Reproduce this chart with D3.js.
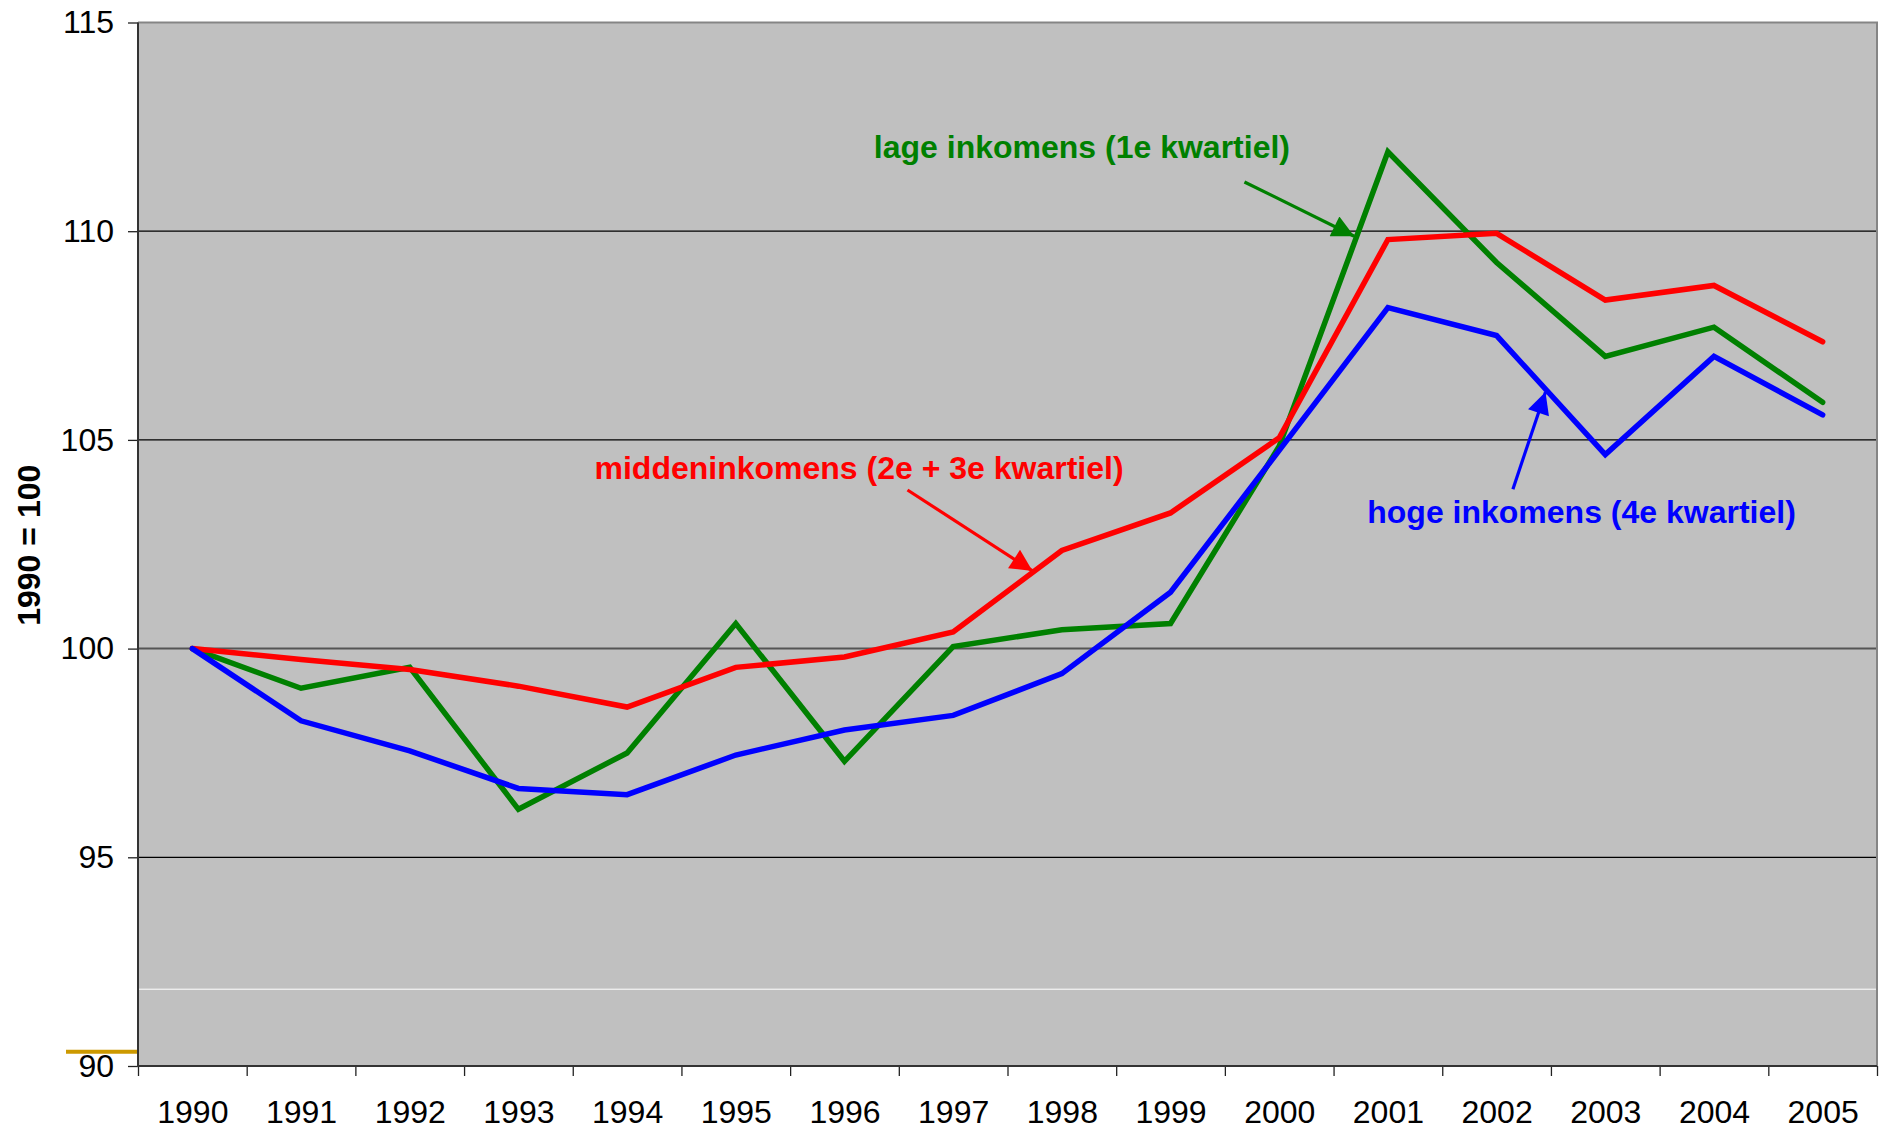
<!DOCTYPE html>
<html>
<head>
<meta charset="utf-8">
<script src="https://cdn.jsdelivr.net/npm/d3@7"></script>
<style>
  body { margin: 0; background: #fff; }
  svg { display: block; font-family: "Liberation Sans", Arial, sans-serif; }
  .axis path.domain { display: none; }
</style>
</head>
<body>
<svg></svg>
<script>
const years = [1990, 1991, 1992, 1993, 1994, 1995, 1996, 1997, 1998, 1999, 2000, 2001, 2002, 2003, 2004, 2005]

// 1990 = 100
const lage = [100, 99.05, 99.55, 96.15, 97.5, 100.6, 97.3, 100.05, 100.45, 100.6, 104.85, 111.9, 109.25, 107.0, 107.7, 105.9]
const midden = [100, 99.74, 99.5, 99.1, 98.6, 99.55, 99.8, 100.4, 102.35, 103.25, 105.05, 109.8, 109.95, 108.35, 108.7, 107.35]
const hoge = [100, 98.27, 97.55, 96.65, 96.5, 97.45, 98.05, 98.4, 99.4, 101.35, 104.75, 108.17, 107.5, 104.65, 107.0, 105.6]

const yTicks = [90, 95, 100, 105, 110, 115]
const gridValues = [95, 100, 105, 110]

const seriesNames = ["lage inkomens (1e kwartiel)", "middeninkomens (2e + 3e kwartiel)", "hoge inkomens (4e kwartiel)"]
const seriesColors = ["#008000", "#ff0000", "#0000ff"]

// label anchor [year, value], arrow from [year, value] to [year, value]
const labelAt = [[1996.27, 111.75], [1993.70, 104.06], [2000.81, 103.01]]
const arrowFrom = [[1999.68, 111.18], [1996.58, 103.80], [2002.15, 103.82]]
const arrowTo = [[2000.69, 109.88], [1997.73, 101.86], [2002.45, 106.15]]

const W = 1885, H = 1129
const m = { left: 138, right: 1877, top: 22.5, bottom: 1066 }

const svg = d3.select("svg")
  .attr("width", W)
  .attr("height", H)

const x = d3.scaleLinear()
  .domain([years[0] - 0.5, years[years.length - 1] + 0.5])
  .range([m.left, m.right])

const y = d3.scaleLinear()
  .domain([90, 115])
  .range([m.bottom, m.top])

// plot area
svg.append("rect")
  .attr("x", m.left)
  .attr("y", m.top)
  .attr("width", m.right - m.left)
  .attr("height", m.bottom - m.top)
  .attr("fill", "#c0c0c0")

// stray white line inside the plot
svg.append("line")
  .attr("x1", m.left + 1).attr("x2", m.right - 1)
  .attr("y1", y(91.84)).attr("y2", y(91.84))
  .attr("stroke", "#ffffff")
  .attr("stroke-width", 1)

// stray gold mark left of the axis
svg.append("line")
  .attr("x1", m.left - 72).attr("x2", m.left)
  .attr("y1", y(90.34)).attr("y2", y(90.34))
  .attr("stroke", "#cc9900")
  .attr("stroke-width", 4)

svg.append("g")
  .selectAll("line")
  .data(gridValues)
  .enter()
  .append("line")
  .attr("x1", m.left).attr("x2", m.right)
  .attr("y1", d => y(d)).attr("y2", d => y(d))
  .attr("stroke", d => d === 100 ? "#555" : "#000")
  .attr("stroke-width", d => d === 100 ? 2 : 1.2)

// top and right border
svg.append("path")
  .attr("d", `M${m.left},${m.top}H${m.right}V${m.bottom}`)
  .attr("fill", "none")
  .attr("stroke", "#858585")
  .attr("stroke-width", 2)

// y axis
const yAxis = d3.axisLeft(y)
  .tickValues(yTicks)
  .tickSize(10)
  .tickPadding(14)

const yG = svg.append("g")
  .attr("class", "axis")
  .attr("transform", `translate(${m.left},0)`)
  .call(yAxis)
yG.selectAll("text").attr("font-size", 32).attr("fill", "#000").attr("font-family", null)
yG.selectAll("line").attr("stroke", "#222").attr("stroke-width", 1.3)

// x axis: ticks between years, labels under each year
const bounds = d3.range(years.length + 1).map(i => years[0] - 0.5 + i)
const xTickG = svg.append("g")
  .attr("class", "axis")
  .attr("transform", `translate(0,${m.bottom})`)
  .call(d3.axisBottom(x).tickValues(bounds).tickFormat("").tickSize(10))
xTickG.selectAll("line").attr("stroke", "#222").attr("stroke-width", 1.3)

const xLabelG = svg.append("g")
  .attr("class", "axis")
  .attr("transform", `translate(0,${m.bottom})`)
  .call(d3.axisBottom(x).tickValues(years).tickFormat(d => d).tickSize(0).tickPadding(34))
xLabelG.selectAll("text").attr("font-size", 32).attr("fill", "#000").attr("font-family", null)

// axis lines
svg.append("path")
  .attr("d", `M${m.left},${m.top}V${m.bottom}H${m.right}`)
  .attr("fill", "none")
  .attr("stroke", "#333")
  .attr("stroke-width", 2)

// y title
svg.append("text")
  .attr("transform", `translate(40,${(m.top + m.bottom) / 2 + 1}) rotate(-90)`)
  .attr("text-anchor", "middle")
  .attr("font-size", 32)
  .attr("font-weight", "bold")
  .text("1990 = 100")

// lines
const line = d3.line()
  .x((d, i) => x(years[i]))
  .y(d => y(d))

const series = [lage, midden, hoge]

svg.append("g")
  .selectAll("path")
  .data(series)
  .enter()
  .append("path")
  .attr("d", d => line(d))
  .attr("fill", "none")
  .attr("stroke", (d, i) => seriesColors[i])
  .attr("stroke-width", 5.5)
  .attr("stroke-linejoin", "miter")
  .attr("stroke-linecap", "round")

// arrowheads
const defs = svg.append("defs")
seriesColors.forEach((c, i) => {
  defs.append("marker")
    .attr("id", "arrow" + i)
    .attr("viewBox", "0 0 10 10")
    .attr("refX", 10)
    .attr("refY", 5)
    .attr("markerUnits", "userSpaceOnUse")
    .attr("markerWidth", 24)
    .attr("markerHeight", 22)
    .attr("orient", "auto")
    .append("path")
    .attr("d", "M0,0L10,5L0,10Z")
    .attr("fill", c)
})

const notes = svg.append("g")

notes.selectAll("line")
  .data(seriesNames)
  .enter()
  .append("line")
  .attr("x1", (d, i) => x(arrowFrom[i][0]))
  .attr("y1", (d, i) => y(arrowFrom[i][1]))
  .attr("x2", (d, i) => x(arrowTo[i][0]))
  .attr("y2", (d, i) => y(arrowTo[i][1]))
  .attr("stroke", (d, i) => seriesColors[i])
  .attr("stroke-width", 3.2)
  .attr("marker-end", (d, i) => `url(#arrow${i})`)

notes.selectAll("text")
  .data(seriesNames)
  .enter()
  .append("text")
  .attr("x", (d, i) => x(labelAt[i][0]))
  .attr("y", (d, i) => y(labelAt[i][1]))
  .attr("font-size", 32)
  .attr("font-weight", "bold")
  .attr("fill", (d, i) => seriesColors[i])
  .text(d => d)
</script>
</body>
</html>
